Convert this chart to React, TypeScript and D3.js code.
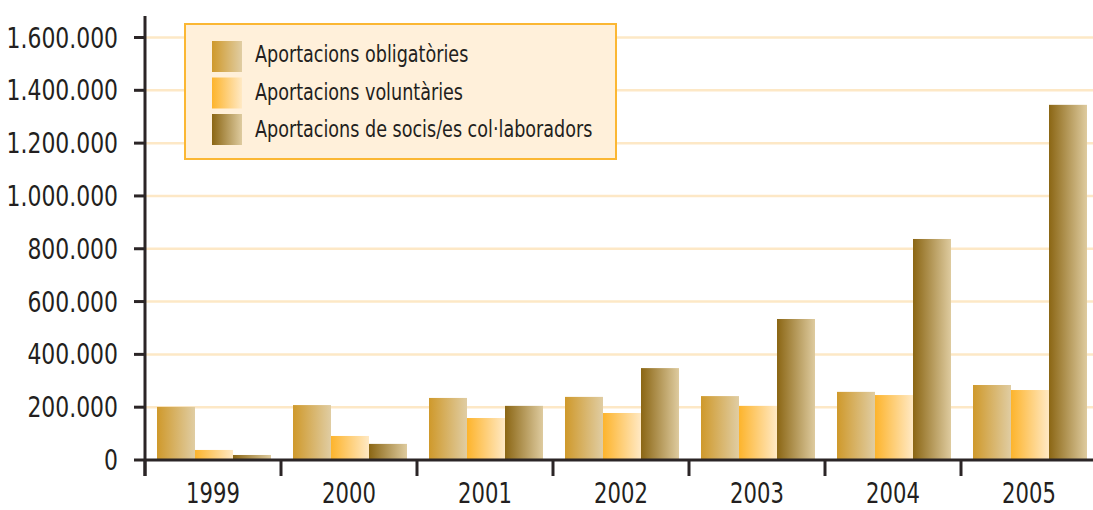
import React, { useEffect, useRef } from 'react';
import * as d3 from 'd3';

const years = ['1999', '2000', '2001', '2002', '2003', '2004', '2005'];
const seriesNames = [
  'Aportacions obligatòries',
  'Aportacions voluntàries',
  'Aportacions de socis/es col·laboradors',
];
const obligatories = [201000, 208000, 235000, 239000, 242000, 258000, 284000];
const voluntaries = [38000, 91000, 159000, 178000, 205000, 246000, 265000];
const collaboradors = [19000, 61000, 205000, 348000, 534000, 837000, 1345000];
const yTicks = [0, 200000, 400000, 600000, 800000, 1000000, 1200000, 1400000, 1600000];

const gradients = [
  ['#cf992b', '#e0cda3'],
  ['#fdb42c', '#ffe9c4'],
  ['#8b6614', '#decb9f'],
];

const FONT = '"DejaVu Sans Condensed", "DejaVu Sans", sans-serif';
// condensed look of the original typeface
const SQUEEZE = 0.84;

export default function App() {
  const svgRef = useRef<SVGSVGElement>(null);

  useEffect(() => {
    if (!svgRef.current) return;
    const svg = d3.select(svgRef.current);
    svg.selectAll('*').remove();

    const width = 1093;
    const axisX = 145;
    const baseY = 460;

    const x = d3.scaleBand().domain(years).range([axisX, axisX + 136 * 7]);
    const inner = d3.scaleBand().domain(['0', '1', '2']).range([12, 126]);
    const y = d3.scaleLinear().domain([0, 1600000]).range([baseY, 37.5]);
    const fmt = d3.formatLocale({ decimal: ',', thousands: '.', grouping: [3], currency: ['', ''] }).format(',');

    const defs = svg.append('defs');
    gradients.forEach((g, i) => {
      const lg = defs.append('linearGradient').attr('id', `grad${i}`).attr('x1', '0%').attr('x2', '100%').attr('y1', '0%').attr('y2', '0%');
      lg.append('stop').attr('offset', '0%').attr('stop-color', g[0]);
      lg.append('stop').attr('offset', '100%').attr('stop-color', g[1]);
    });

    // gridlines
    svg.append('g')
      .selectAll('line')
      .data(yTicks.filter(d => d > 0))
      .enter()
      .append('line')
      .attr('x1', axisX)
      .attr('x2', width)
      .attr('y1', d => y(d))
      .attr('y2', d => y(d))
      .attr('stroke', '#fde8c6')
      .attr('stroke-width', 2.5);

    // bars
    const data = [obligatories, voluntaries, collaboradors];
    data.forEach((vals, si) => {
      svg.append('g')
        .selectAll('rect')
        .data(vals)
        .enter()
        .append('rect')
        .attr('x', (d, i) => (x(years[i]) || 0) + (inner(String(si)) || 0))
        .attr('width', inner.bandwidth())
        .attr('y', d => y(d))
        .attr('height', d => baseY - y(d))
        .attr('fill', `url(#grad${si})`);
    });

    // axes
    const axisColor = '#2b2526';
    svg.append('line')
      .attr('x1', axisX).attr('x2', axisX)
      .attr('y1', 16).attr('y2', 476)
      .attr('stroke', axisColor).attr('stroke-width', 3);
    svg.append('line')
      .attr('x1', axisX).attr('x2', width)
      .attr('y1', baseY).attr('y2', baseY)
      .attr('stroke', axisColor).attr('stroke-width', 3);

    svg.append('g')
      .selectAll('line')
      .data(yTicks)
      .enter()
      .append('line')
      .attr('x1', 134).attr('x2', axisX)
      .attr('y1', d => y(d)).attr('y2', d => y(d))
      .attr('stroke', axisColor).attr('stroke-width', 3);

    svg.append('g')
      .selectAll('text')
      .data(yTicks)
      .enter()
      .append('text')
      .attr('transform', d => `translate(118,${y(d) + 10}) scale(${SQUEEZE},1)`)
      .attr('text-anchor', 'end')
      .attr('font-family', FONT)
      .attr('font-size', 29)
      .attr('fill', '#231f20')
      .text(d => fmt(d));

    const boundaries = years.map(d => x(d) || 0).concat([(x(years[6]) || 0) + x.bandwidth()]);
    svg.append('g')
      .selectAll('line')
      .data(boundaries)
      .enter()
      .append('line')
      .attr('x1', d => d).attr('x2', d => d)
      .attr('y1', baseY).attr('y2', 476)
      .attr('stroke', axisColor).attr('stroke-width', 3);

    svg.append('g')
      .selectAll('text')
      .data(years)
      .enter()
      .append('text')
      .attr('transform', d => `translate(${(x(d) || 0) + x.bandwidth() / 2},503) scale(${SQUEEZE},1)`)
      .attr('text-anchor', 'middle')
      .attr('font-family', FONT)
      .attr('font-size', 28)
      .attr('fill', '#231f20')
      .text(d => d);

    // legend
    const legend = svg.append('g');
    legend.append('rect')
      .attr('x', 185).attr('y', 24)
      .attr('width', 431).attr('height', 135)
      .attr('fill', '#fff0da')
      .attr('stroke', '#fbb733')
      .attr('stroke-width', 2);
    seriesNames.forEach((name, i) => {
      legend.append('rect')
        .attr('x', 212).attr('y', 41 + i * 36.5)
        .attr('width', 30).attr('height', 31)
        .attr('fill', `url(#grad${i})`);
      legend.append('text')
        .attr('transform', `translate(255,${62 + i * 37.5}) scale(0.85,1)`)
        .attr('font-family', FONT)
        .attr('font-size', 23)
        .attr('fill', '#231f20')
        .text(name);
    });
  }, []);

  return (
    <svg
      ref={svgRef}
      width={1093}
      height={510}
      viewBox="0 0 1093 510"
      style={{ position: 'absolute', left: 0, top: 0, background: '#ffffff' }}
    />
  );
}
